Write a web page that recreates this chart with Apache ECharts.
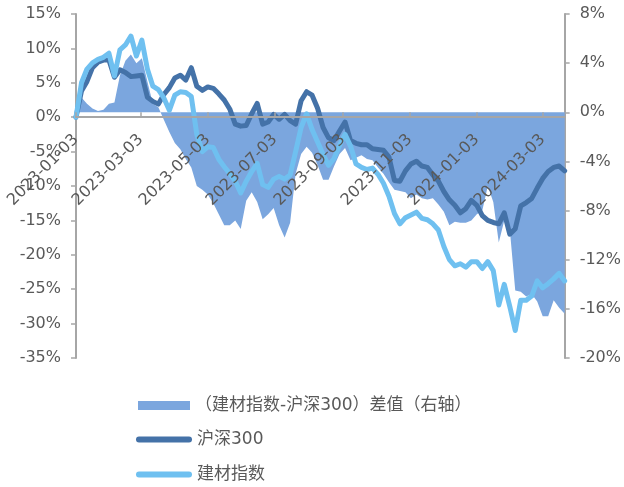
<!DOCTYPE html>
<html>
<head>
<meta charset="utf-8">
<script src="https://cdn.jsdelivr.net/npm/echarts@6/dist/echarts.min.js"></script>
<style>
  html, body { margin: 0; padding: 0; background: #ffffff; }
  #chart { width: 624px; height: 487px; }
</style>
</head>
<body>
<div id="chart"></div>
<script>
// Sampling: one observation every 5 calendar days from the base date
const startDate = '2023-01-03';
const endDate = '2024-03-23';
const stepDays = 5;

// Axis tick labels (every two months)
const tickDates = ['2023-01-03', '2023-03-03', '2023-05-03', '2023-07-03',
                   '2023-09-03', '2023-11-03', '2024-01-03', '2024-03-03'];

// Cumulative return, %, 沪深300
const hs300 = [
  0, 3.8, 5.2, 7.2, 8.0, 8.3, 8.3, 5.8, 6.9, 6.5,
  5.9, 6.0, 6.1, 2.9, 2.3, 1.9, 3.3, 4.3, 5.7, 6.1,
  5.4, 7.2, 4.5, 3.9, 4.4, 4.2, 3.4, 2.5, 1.2, -1.0,
  -1.3, -1.2, 0.5, 2.0, -1.0, -0.7, 0.4, -0.3, 0.4, -0.5,
  -1.0, 2.4, 3.7, 3.2, 1.3, -1.5, -3.0, -3.4, -2.0, -0.7,
  -3.4, -3.8, -4.0, -4.0, -4.6, -4.7, -4.8, -5.8, -9.2, -9.3,
  -7.8, -6.8, -6.4, -7.1, -7.3, -8.4, -9.3, -10.8, -12.0, -12.8,
  -13.9, -13.3, -12.1, -12.8, -14.3, -15.0, -15.3, -15.5, -13.9, -17.0,
  -16.2, -12.9, -12.4, -11.8, -10.3, -8.9, -7.9, -7.3, -7.1, -7.8
];

// Cumulative return, %, 建材指数
const jiancai = [
  0, 5.0, 7.0, 7.9, 8.4, 8.7, 9.3, 6.0, 9.8, 10.5,
  11.8, 8.9, 11.2, 7.0, 4.5, 4.0, 2.8, 1.0, 3.2, 3.7,
  3.6, 3.0, -2.5, -5.0, -4.3, -4.4, -6.1, -7.2, -8.2, -9.3,
  -11.0, -9.3, -7.9, -6.7, -9.8, -10.2, -9.0, -8.6, -9.0, -8.4,
  -5.0, -1.5, 0.5, -1.8, -3.6, -5.4, -7.0, -6.0, -4.1, -2.5,
  -4.2, -6.8, -7.3, -7.6, -7.4, -8.3, -9.6, -11.5, -14.0, -15.5,
  -14.6, -14.2, -13.8, -14.7, -14.9, -15.5, -16.4, -18.8, -20.7, -21.6,
  -21.3, -21.8, -21.0, -21.0, -22.0, -21.0, -22.3, -27.3, -24.3, -27.5,
  -31.0, -26.6, -26.6, -26.0, -23.8, -24.8, -24.2, -23.5, -22.7, -23.8
];

// Spread (建材指数 - 沪深300), %, right axis
const spread = [
  0, 1.2, 0.7, 0.3, 0.1, 0.2, 0.7, 0.8, 3.0, 4.2,
  4.7, 4.0, 4.4, 2.5, 0.7, 0.4, -0.6, -1.6, -2.5, -3.0,
  -3.8, -4.5, -6.0, -6.3, -6.7, -7.4, -8.3, -9.2, -9.2, -8.8,
  -9.5, -7.2, -6.5, -7.3, -8.7, -8.3, -7.8, -9.2, -10.2, -9.0,
  -5.0, -3.4, -2.8, -3.3, -4.3, -5.5, -5.5, -4.4, -3.4, -2.9,
  -3.9, -3.7, -3.5, -3.8, -3.9, -4.5, -5.0, -5.7, -6.3, -6.4,
  -6.5, -7.0, -6.7, -7.0, -7.1, -7.0, -7.5, -8.1, -9.2, -8.9,
  -9.0, -9.0, -8.8, -8.3, -8.0, -6.0, -7.3, -10.6, -8.8, -9.5,
  -14.5, -14.6, -15.0, -14.8, -15.4, -16.6, -16.6, -15.3, -15.9, -16.4
];

const seriesNames = ['（建材指数-沪深300）差值（右轴）', '沪深300', '建材指数'];
const colors = ['#7BA6DE', '#4472A8', '#6FC0F0'];

const DAY = 86400000;
const parseDay = d => echarts.time.parse(d).getTime();
const t0 = parseDay(startDate);
const times = hs300.map((_, i) => t0 + i * stepDays * DAY);
const pair = arr => arr.map((v, i) => [times[i], v]);
const tickTimes = tickDates.map(parseDay);

// Left axis range; the date axis sits on its zero line
const leftMin = -35, leftMax = 15;
const gridTop = 14, gridHeight = 344;
const zeroOffset = -gridHeight * (0 - leftMin) / (leftMax - leftMin);

const labelColor = '#595959';
const axisGray = '#A6A6A6';
const numFont = 'DejaVu Sans';
const legendFont = 'DejaVu Sans, Noto Sans CJK SC';
const linePill = 'path://M3,0L53,0A3,3,0,0,1,53,6L3,6A3,3,0,0,1,3,0Z';
const legendText = { color: labelColor, fontFamily: legendFont, fontSize: 17 };

const chart = echarts.init(document.getElementById('chart'), null, { renderer: 'canvas' });
chart.setOption({
  animation: false,
  backgroundColor: '#ffffff',
  grid: { left: 76, right: 59, top: gridTop, height: gridHeight },
  xAxis: {
    type: 'time',
    min: t0,
    max: parseDay(endDate),
    offset: zeroOffset,
    z: 10,
    axisLine: { onZero: false, lineStyle: { color: axisGray, width: 2 } },
    axisTick: { show: true, inside: true, length: 5, customValues: tickTimes, lineStyle: { color: axisGray, width: 1.5 } },
    axisLabel: {
      customValues: tickTimes,
      formatter: '{yyyy}-{MM}-{dd}',
      rotate: 45,
      margin: 20,
      color: labelColor,
      fontFamily: numFont,
      fontSize: 16
    },
    splitLine: { show: false }
  },
  yAxis: [
    {
      type: 'value', min: leftMin, max: leftMax, interval: 5, position: 'left',
      axisLine: { show: true, onZero: false, lineStyle: { color: axisGray, width: 2 } },
      axisTick: { show: true, length: 5, lineStyle: { color: axisGray, width: 1.5 } },
      axisLabel: { formatter: '{value}%', margin: 15, color: labelColor, fontFamily: numFont, fontSize: 16 },
      splitLine: { show: false }
    },
    {
      type: 'value', min: -20, max: 8, interval: 4, position: 'right',
      axisLine: { show: true, onZero: false, lineStyle: { color: axisGray, width: 2 } },
      axisTick: { show: true, length: 5, lineStyle: { color: axisGray, width: 1.5 } },
      axisLabel: { formatter: '{value}%', margin: 15, color: labelColor, fontFamily: numFont, fontSize: 16 },
      splitLine: { show: false }
    }
  ],
  legend: [
    {
      data: [{ name: seriesNames[0], icon: 'rect' }],
      left: 133, top: 392, itemWidth: 52, itemHeight: 9,
      textStyle: legendText, selectedMode: false
    },
    {
      data: [{ name: seriesNames[1], icon: linePill }],
      left: 131, top: 426, itemWidth: 56, itemHeight: 6,
      textStyle: legendText, selectedMode: false
    },
    {
      data: [{ name: seriesNames[2], icon: linePill }],
      left: 131, top: 461, itemWidth: 56, itemHeight: 6,
      textStyle: legendText, selectedMode: false
    }
  ],
  series: [
    {
      name: seriesNames[0], type: 'line', yAxisIndex: 1,
      data: pair(spread), symbol: 'none', color: colors[0],
      lineStyle: { width: 0 },
      areaStyle: { color: colors[0], opacity: 1 },
      emphasis: { disabled: true }, z: 1
    },
    {
      name: seriesNames[1], type: 'line', yAxisIndex: 0,
      data: pair(hs300), symbol: 'none', color: colors[1],
      lineStyle: { width: 5, cap: 'round', join: 'round' },
      emphasis: { disabled: true }, z: 2
    },
    {
      name: seriesNames[2], type: 'line', yAxisIndex: 0,
      data: pair(jiancai), symbol: 'none', color: colors[2],
      lineStyle: { width: 5, cap: 'round', join: 'round' },
      emphasis: { disabled: true }, z: 3
    }
  ]
});
</script>
</body>
</html>
